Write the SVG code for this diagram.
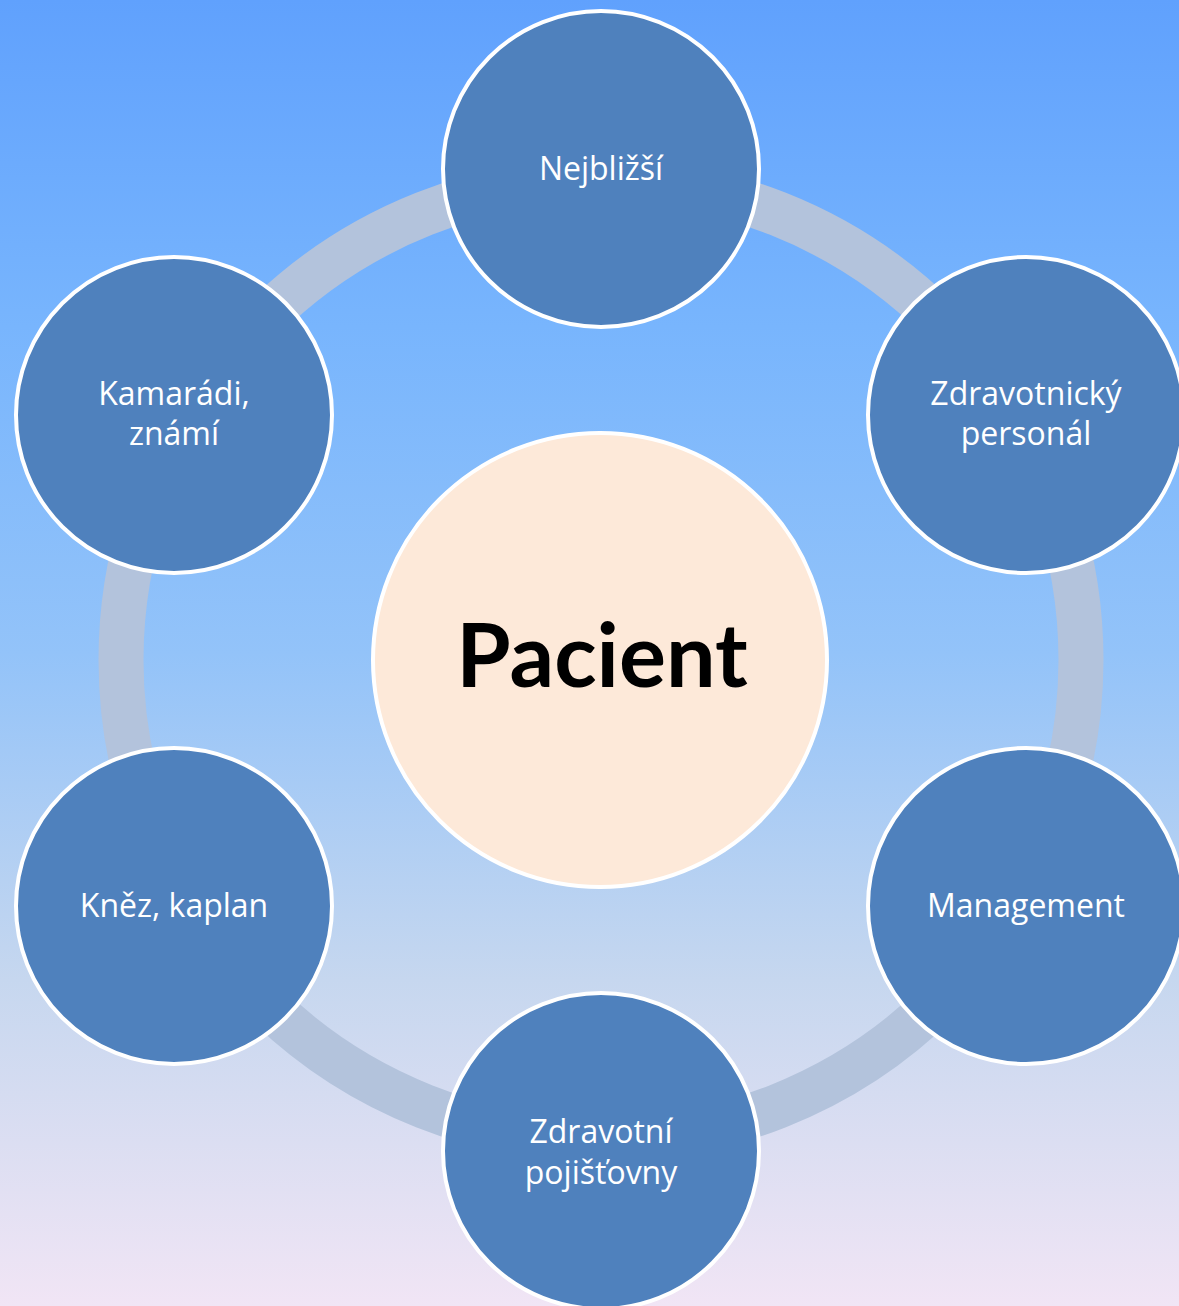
<svg xmlns="http://www.w3.org/2000/svg" width="1179" height="1306" viewBox="0 0 1179 1306">
<defs>
<linearGradient id="bg" x1="0" y1="0" x2="0" y2="1">
<stop offset="0" stop-color="#60a1fd"/>
<stop offset="0.25" stop-color="#78b5fd"/>
<stop offset="0.5" stop-color="#93c3f9"/>
<stop offset="0.75" stop-color="#c6d7ef"/>
<stop offset="1" stop-color="#f1e5f5"/>
</linearGradient>
</defs>
<style>
.node{fill:#4f81bd;stroke:#ffffff;stroke-width:4}
.lbl{font-family:"Open Sans","Liberation Sans",sans-serif;font-size:32px;fill:#ffffff;text-anchor:middle}
.ring{fill:none;stroke:#b3c3dc;stroke-width:45}
</style>
<rect x="0" y="0" width="1179" height="1306" fill="url(#bg)"/>
<g id="connectors">
<circle class="ring" cx="601" cy="660" r="480"/>
</g>
<g id="center">
<circle cx="600" cy="660" r="227" fill="#fde9d9" stroke="#ffffff" stroke-width="4"/>
<text x="602" y="687" font-family="Lato,'Open Sans',sans-serif" font-weight="bold" font-size="88" text-anchor="middle" fill="#000000">Pacient</text>
</g>
<g id="n1">
<circle class="node" cx="601" cy="169" r="158"/>
<text class="lbl" x="601" y="180">Nejbližší</text>
</g>
<g id="n2">
<circle class="node" cx="1026" cy="415" r="158"/>
<text class="lbl" x="1026" y="405">Zdravotnický</text>
<text class="lbl" x="1026" y="445">personál</text>
</g>
<g id="n3">
<circle class="node" cx="1026" cy="906" r="158"/>
<text class="lbl" x="1026" y="917">Management</text>
</g>
<g id="n4">
<circle class="node" cx="601" cy="1151" r="158"/>
<text class="lbl" x="601" y="1143">Zdravotní</text>
<text class="lbl" x="601" y="1184">pojišťovny</text>
</g>
<g id="n5">
<circle class="node" cx="174" cy="906" r="158"/>
<text class="lbl" x="174" y="917">Kněz, kaplan</text>
</g>
<g id="n6">
<circle class="node" cx="174" cy="415" r="158"/>
<text class="lbl" x="174" y="405">Kamarádi,</text>
<text class="lbl" x="174" y="445">známí</text>
</g>
</svg>
